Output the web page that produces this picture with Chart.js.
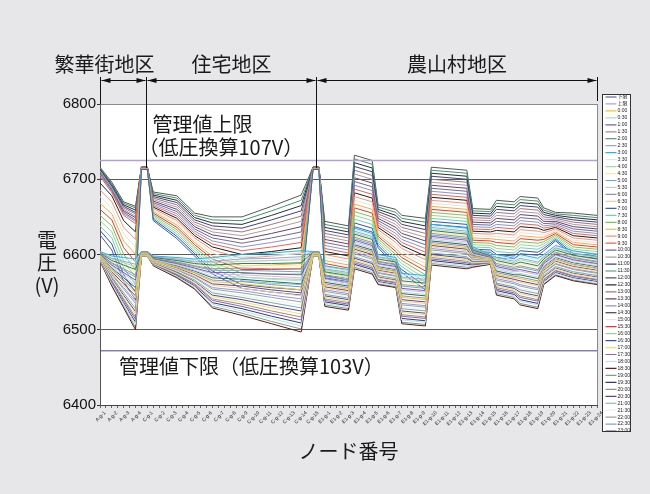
<!DOCTYPE html>
<html><head><meta charset="utf-8">
<script src="https://cdn.jsdelivr.net/npm/chart.js@4.4.1/dist/chart.umd.min.js"></script>
<style>html,body{margin:0;padding:0;background:#e7e7e9;}canvas{display:block;}</style>
</head><body>
<canvas id="c" width="650" height="494"></canvas>
<script>
// node numbers (x positions) at which voltages were read
const nodeNo = [1,3,5,7,8,9,10,14,17,20,25,30,35,37,38,39,43,44,47,48,51,52,56,57,63,64,67,68,71,72,75,76,78,81,85];

// tick labels for odd node numbers 1,3,...,85
const tickLabels = ['A-g-1','A-g-2','A-g-3','A-g-4',
 'C-g-1','C-g-2','C-g-3','C-g-4','C-g-5','C-g-6','C-g-7','C-g-8','C-g-9','C-g-10','C-g-11','C-g-12','C-g-13','C-g-14','C-g-15',
 'E1-g-1','E1-g-2','E1-g-3','E1-g-4','E1-g-5','E1-g-6','E1-g-7','E1-g-8','E1-g-9','E1-g-10','E1-g-11','E1-g-12',
 'E1-g-13','E1-g-14','E1-g-15','E1-g-16','E1-g-17','E1-g-18','E1-g-19','E1-g-20','E1-g-21','E1-g-22','E1-g-23','E1-g-24'];

const yTickValues = [6400,6500,6600,6700,6800];
const upperLimit = 6725;   // 管理値上限
const lowerLimit = 6472;   // 管理値下限

const regionNames = ['繁華街地区','住宅地区','農山村地区'];
const regionEdges = [1, 8.8, 37.5, 85];

const timeLabels = ['0:00','0:30','1:00','1:30','2:00','2:30','3:00','3:30','4:00','4:30','5:00','5:30',
 '6:00','6:30','7:00','7:30','8:00','8:30','9:00','9:30','10:00','10:30','11:00','11:30',
 '12:00','12:30','13:00','13:30','14:00','14:30','15:00','15:30','16:00','16:30','17:00','17:30',
 '18:00','18:30','19:00','19:30','20:00','20:30','21:00','21:30','22:00','22:30','23:00','23:30'];

const v0000 = [6598,6579,6564,6549,6601,6601,6592,6583,6575,6564,6561,6557,6553,6601,6601,6559,6554,6609,6602,6581,6577,6543,6540,6614,6609,6597,6594,6574,6569,6568,6563,6581,6593,6586,6581];
const v0030 = [6599,6583,6571,6559,6602,6602,6593,6586,6579,6571,6570,6567,6565,6602,6602,6565,6560,6615,6608,6585,6581,6550,6547,6620,6615,6600,6595,6580,6575,6575,6570,6585,6597,6590,6585];
const v0100 = [6600,6586,6576,6566,6602,6602,6594,6588,6582,6576,6576,6574,6573,6602,6602,6569,6564,6619,6612,6588,6584,6555,6552,6624,6619,6602,6596,6584,6579,6580,6575,6588,6600,6593,6588];
const v0130 = [6601,6589,6581,6573,6603,6603,6595,6590,6585,6581,6582,6581,6581,6603,6603,6573,6568,6623,6616,6591,6587,6560,6557,6628,6623,6604,6597,6588,6583,6585,6580,6591,6603,6596,6591];
const v0200 = [6602,6592,6586,6580,6603,6603,6596,6592,6588,6586,6588,6588,6589,6603,6603,6577,6572,6627,6620,6594,6590,6565,6562,6632,6627,6606,6598,6592,6587,6590,6585,6594,6606,6599,6594];
const v0230 = [6603,6595,6591,6587,6604,6604,6597,6594,6591,6591,6594,6595,6597,6604,6604,6581,6576,6631,6624,6597,6593,6570,6567,6636,6631,6608,6599,6596,6591,6595,6590,6597,6609,6602,6597];
const v0300 = [6604,6598,6596,6594,6604,6604,6598,6596,6594,6596,6600,6602,6605,6604,6604,6585,6580,6635,6628,6600,6596,6575,6572,6640,6635,6610,6600,6600,6595,6600,6595,6600,6612,6605,6600];
const v0330 = [6604,6597,6594,6591,6604,6604,6598,6595,6593,6594,6597,6599,6601,6604,6604,6583,6578,6633,6626,6599,6595,6573,6570,6638,6633,6609,6600,6598,6593,6598,6593,6599,6611,6604,6599];
const v0400 = [6603,6594,6589,6584,6604,6604,6597,6593,6590,6589,6591,6592,6593,6604,6604,6579,6574,6629,6622,6596,6592,6568,6565,6634,6629,6607,6599,6594,6589,6593,6588,6596,6608,6601,6596];
const v0430 = [6602,6591,6584,6577,6603,6603,6596,6591,6587,6584,6585,6585,6585,6603,6603,6575,6570,6625,6618,6593,6589,6563,6560,6630,6625,6605,6598,6590,6585,6588,6583,6593,6605,6598,6593];
const v0500 = [6601,6588,6579,6570,6603,6603,6595,6589,6584,6579,6579,6578,6577,6603,6603,6571,6566,6621,6614,6590,6586,6558,6555,6626,6621,6603,6597,6586,6581,6583,6578,6590,6602,6595,6590];
const v0530 = [6600,6585,6574,6563,6602,6602,6594,6587,6581,6574,6573,6571,6569,6602,6602,6567,6562,6617,6610,6587,6583,6553,6550,6622,6617,6601,6596,6582,6577,6578,6573,6587,6599,6592,6587];
const v0600 = [6598,6580,6566,6552,6601,6601,6592,6584,6576,6566,6564,6560,6557,6601,6601,6561,6556,6611,6604,6582,6578,6545,6542,6616,6611,6598,6594,6576,6571,6570,6565,6582,6594,6587,6582];
const v0630 = [6597,6576,6559,6542,6601,6601,6591,6581,6572,6559,6555,6550,6545,6601,6601,6555,6550,6605,6598,6578,6574,6538,6535,6610,6605,6595,6593,6570,6565,6563,6558,6578,6590,6583,6578];
const v0700 = [6626,6606,6564,6540,6713,6713,6645,6621,6598,6574,6555,6550,6546,6713,6713,6568,6562,6637,6630,6609,6584,6576,6553,6640,6636,6604,6603,6596,6594,6601,6599,6605,6618,6598,6595];
const v0730 = [6638,6622,6582,6560,6713,6713,6649,6627,6604,6582,6565,6562,6560,6713,6713,6576,6570,6647,6640,6615,6592,6584,6563,6648,6644,6610,6609,6604,6602,6609,6607,6611,6622,6604,6601];
const v0800 = [6652,6638,6600,6580,6713,6713,6653,6633,6610,6590,6575,6574,6574,6713,6713,6584,6578,6657,6650,6621,6600,6592,6573,6656,6652,6616,6615,6612,6610,6617,6615,6617,6626,6610,6607];
const v0830 = [6668,6654,6618,6600,6714,6714,6657,6639,6616,6598,6585,6586,6588,6714,6714,6592,6586,6667,6660,6627,6608,6600,6583,6664,6660,6622,6621,6620,6618,6625,6623,6623,6630,6616,6613];
const v0900 = [6686,6670,6636,6620,6714,6714,6661,6645,6622,6606,6595,6598,6602,6714,6714,6600,6594,6677,6670,6633,6616,6608,6593,6672,6668,6628,6627,6628,6626,6633,6631,6629,6634,6622,6619];
const v0930 = [6704,6682,6652,6641,6715,6715,6665,6651,6628,6614,6605,6610,6616,6715,6715,6608,6602,6687,6680,6639,6624,6616,6603,6680,6676,6634,6633,6636,6634,6641,6639,6635,6638,6628,6625];
const v1000 = [6708,6685,6656,6646,6715,6715,6669,6657,6634,6622,6615,6622,6630,6715,6715,6616,6610,6697,6690,6645,6632,6624,6613,6688,6684,6640,6639,6644,6642,6649,6647,6641,6642,6634,6631];
const v1030 = [6711,6688,6660,6651,6715,6715,6673,6663,6640,6630,6625,6634,6644,6715,6715,6624,6618,6707,6700,6651,6640,6632,6623,6696,6692,6646,6645,6652,6650,6657,6655,6647,6646,6640,6637];
const v1100 = [6713,6691,6664,6656,6716,6716,6677,6669,6646,6638,6635,6646,6658,6716,6716,6632,6626,6717,6710,6657,6648,6640,6633,6704,6700,6652,6651,6660,6658,6665,6663,6653,6650,6646,6643];
const v1130 = [6715,6694,6668,6662,6716,6716,6681,6675,6652,6646,6645,6658,6672,6716,6716,6640,6634,6727,6720,6663,6656,6648,6643,6712,6708,6658,6657,6668,6666,6673,6671,6659,6654,6652,6649];
const v1200 = [6716,6696,6670,6664,6716,6716,6683,6678,6655,6650,6650,6664,6679,6716,6716,6644,6638,6732,6725,6666,6660,6652,6648,6716,6712,6661,6660,6672,6670,6677,6675,6662,6656,6655,6652];
const v1230 = [6714,6693,6666,6659,6716,6716,6679,6672,6649,6642,6640,6652,6665,6716,6716,6636,6630,6722,6715,6660,6652,6644,6638,6708,6704,6655,6654,6664,6662,6669,6667,6656,6652,6649,6646];
const v1300 = [6712,6690,6662,6654,6716,6716,6675,6666,6643,6634,6630,6640,6651,6716,6716,6628,6622,6712,6705,6654,6644,6636,6628,6700,6696,6649,6648,6656,6654,6661,6659,6650,6648,6643,6640];
const v1330 = [6710,6687,6658,6649,6715,6715,6671,6660,6637,6626,6620,6628,6637,6715,6715,6620,6614,6702,6695,6648,6636,6628,6618,6692,6688,6643,6642,6648,6646,6653,6651,6644,6644,6637,6634];
const v1400 = [6706,6684,6654,6644,6715,6715,6667,6654,6631,6618,6610,6616,6623,6715,6715,6612,6606,6692,6685,6642,6628,6620,6608,6684,6680,6637,6636,6640,6638,6645,6643,6638,6640,6631,6628];
const v1430 = [6695,6678,6645,6630,6714,6714,6663,6648,6625,6610,6600,6604,6609,6714,6714,6604,6598,6682,6675,6636,6620,6612,6598,6676,6672,6631,6630,6632,6630,6637,6635,6632,6636,6625,6622];
const v1500 = [6677,6662,6627,6610,6714,6714,6659,6642,6619,6602,6590,6592,6595,6714,6714,6596,6590,6672,6665,6630,6612,6604,6588,6668,6664,6625,6624,6624,6622,6629,6627,6626,6632,6619,6616];
const v1530 = [6660,6646,6609,6590,6714,6714,6655,6636,6613,6594,6580,6580,6581,6714,6714,6588,6582,6662,6655,6624,6604,6596,6578,6660,6656,6619,6618,6616,6614,6621,6619,6620,6628,6613,6610];
const v1600 = [6645,6630,6591,6570,6713,6713,6651,6630,6607,6586,6570,6568,6567,6713,6713,6580,6574,6652,6645,6618,6596,6588,6568,6652,6648,6613,6612,6608,6606,6613,6611,6614,6624,6607,6604];
const v1630 = [6632,6614,6573,6550,6713,6713,6647,6624,6601,6578,6560,6556,6553,6713,6713,6572,6566,6642,6635,6612,6588,6580,6558,6644,6640,6607,6606,6600,6598,6605,6603,6608,6620,6601,6598];
const v1700 = [6594,6567,6544,6521,6599,6599,6588,6575,6563,6544,6537,6529,6521,6599,6599,6543,6538,6593,6586,6569,6565,6523,6520,6598,6593,6589,6590,6558,6553,6548,6543,6569,6581,6574,6569];
const v1730 = [6593,6564,6539,6514,6599,6599,6587,6573,6560,6539,6531,6522,6513,6599,6599,6539,6534,6589,6582,6566,6562,6518,6515,6594,6589,6587,6589,6554,6549,6543,6538,6566,6578,6571,6566];
const v1800 = [6592,6561,6534,6507,6598,6598,6586,6571,6557,6534,6525,6515,6505,6598,6598,6535,6530,6585,6578,6563,6559,6513,6510,6590,6585,6585,6588,6550,6545,6538,6533,6563,6575,6568,6563];
const v1830 = [6591,6558,6529,6500,6598,6598,6585,6569,6554,6529,6519,6508,6497,6598,6598,6531,6526,6581,6574,6560,6556,6508,6505,6586,6581,6583,6587,6546,6541,6533,6528,6560,6572,6565,6560];
const v1900 = [6591,6559,6531,6503,6598,6598,6585,6570,6555,6531,6522,6511,6501,6598,6598,6533,6528,6583,6576,6561,6557,6510,6507,6588,6583,6584,6587,6548,6543,6535,6530,6561,6573,6566,6561];
const v1930 = [6592,6562,6536,6510,6598,6598,6586,6572,6558,6536,6528,6518,6509,6598,6598,6537,6532,6587,6580,6564,6560,6515,6512,6592,6587,6586,6588,6552,6547,6540,6535,6564,6576,6569,6564];
const v2000 = [6593,6565,6541,6517,6599,6599,6587,6574,6561,6541,6534,6525,6517,6599,6599,6541,6536,6591,6584,6567,6563,6520,6517,6596,6591,6588,6589,6556,6551,6545,6540,6567,6579,6572,6567];
const v2030 = [6594,6568,6546,6524,6599,6599,6588,6576,6564,6546,6540,6532,6525,6599,6599,6545,6540,6595,6588,6570,6566,6525,6522,6600,6595,6590,6590,6560,6555,6550,6545,6570,6582,6575,6570];
const v2100 = [6595,6570,6549,6528,6600,6600,6589,6577,6566,6549,6543,6536,6529,6600,6600,6547,6542,6597,6590,6572,6568,6528,6525,6602,6597,6591,6591,6562,6557,6553,6548,6572,6584,6577,6572];
const v2130 = [6595,6571,6551,6531,6600,6600,6589,6578,6567,6551,6546,6539,6533,6600,6600,6549,6544,6599,6592,6573,6569,6530,6527,6604,6599,6592,6591,6564,6559,6555,6550,6573,6585,6578,6573];
const v2200 = [6596,6573,6554,6535,6600,6600,6590,6579,6569,6554,6549,6543,6537,6600,6600,6551,6546,6601,6594,6575,6571,6533,6530,6606,6601,6593,6592,6566,6561,6558,6553,6575,6587,6580,6575];
const v2230 = [6596,6574,6556,6538,6600,6600,6590,6580,6570,6556,6552,6546,6541,6600,6600,6553,6548,6603,6596,6576,6572,6535,6532,6608,6603,6594,6592,6568,6563,6560,6555,6576,6588,6581,6576];
const v2300 = [6597,6577,6561,6545,6601,6601,6591,6582,6573,6561,6558,6553,6549,6601,6601,6557,6552,6607,6600,6579,6575,6540,6537,6612,6607,6596,6593,6572,6567,6565,6560,6579,6591,6584,6579];
const v2330 = [6599,6582,6569,6556,6602,6602,6593,6585,6578,6569,6567,6564,6561,6602,6602,6563,6558,6613,6606,6584,6580,6548,6545,6618,6613,6599,6595,6578,6573,6573,6568,6584,6596,6589,6584];

const seriesValues = [v0000,v0030,v0100,v0130,v0200,v0230,v0300,v0330,v0400,v0430,v0500,v0530,
 v0600,v0630,v0700,v0730,v0800,v0830,v0900,v0930,v1000,v1030,v1100,v1130,
 v1200,v1230,v1300,v1330,v1400,v1430,v1500,v1530,v1600,v1630,v1700,v1730,
 v1800,v1830,v1900,v1930,v2000,v2030,v2100,v2130,v2200,v2230,v2300,v2330];

const seriesColors = ['#f2c81e','#a6dfe0','#7b5ea7','#a98c84','#2f7d5d','#9aa3d6','#1fb5e6','#cdeff0',
 '#a9d8a3','#f5ec9c','#5aaee3','#e6b3d6','#9a8ac8','#f6c9a3','#3f5fb5','#6fcfbf',
 '#7ac553','#f7ad3f','#f79273','#ee6450','#6b6b99','#a3a3a3','#3a418c','#3b9a6b',
 '#565656','#2e2e2e','#b07272','#6e3f6e','#8b92d1','#1e1e1e','#e4e4e4','#ef3434',
 '#96d696','#3353ae','#f5df6e','#8a62c0','#b1e6df','#6e1a1a','#7f9f87','#323b78',
 '#9a9181','#6242a0','#72b1a2','#eeeeee','#9f9f9f','#7f9fe0','#5c4a86','#2a6b4c'];

const CJK = '"Noto Sans CJK JP", "Noto Sans CJK SC", sans-serif';
Chart.defaults.font.family = '"Liberation Sans", Arial, ' + CJK;

const first = nodeNo[0], last = nodeNo[nodeNo.length - 1];
const datasets = [
  {label:'下限', data:[{x:first,y:lowerLimit},{x:last,y:lowerLimit}], borderColor:'#45458f', borderWidth:1},
  {label:'上限', data:[{x:first,y:upperLimit},{x:last,y:upperLimit}], borderColor:'#b49fdc', borderWidth:1.6}
];
timeLabels.forEach((t, i) => {
  datasets.push({label:t, data: nodeNo.map((n, j) => ({x:n, y:seriesValues[i][j]})),
    borderColor: seriesColors[i], borderWidth: 1});
});

function arrowHead(ctx, x, y, dir){
  ctx.beginPath(); ctx.moveTo(x, y); ctx.lineTo(x - dir*9, y - 2.6); ctx.lineTo(x - dir*9, y + 2.6);
  ctx.closePath(); ctx.fill();
}

const decor = {
  id:'decor',
  beforeDraw(chart){
    const {ctx, chartArea:a} = chart;
    ctx.save();
    ctx.fillStyle = '#e7e7e9'; ctx.fillRect(0, 0, chart.width, chart.height);
    ctx.fillStyle = '#ffffff'; ctx.fillRect(a.left, a.top, a.right - a.left, a.bottom - a.top);
    ctx.restore();
  },
  afterDraw(chart){
    const {ctx, chartArea:a, scales:{x, y}} = chart;
    ctx.save();
    // frame right side
    ctx.strokeStyle = '#8a8a8a'; ctx.lineWidth = 1;
    ctx.beginPath(); ctx.moveTo(a.right + 0.5, a.top); ctx.lineTo(a.right + 0.5, a.bottom); ctx.stroke();

    // region separators and arrows
    const xs = regionEdges.map(v => Math.round(x.getPixelForValue(v)) + 0.5);
    const yPeak = y.getPixelForValue(6715);
    const yTop = a.top - 27, yArrow = a.top - 24;
    ctx.strokeStyle = '#111'; ctx.fillStyle = '#111'; ctx.lineWidth = 1;
    const ends = [a.top, yPeak, yPeak, a.top - 3];
    xs.forEach((px, i) => { ctx.beginPath(); ctx.moveTo(px, yTop); ctx.lineTo(px, ends[i]); ctx.stroke(); });
    for (let i = 0; i < 3; i++) {
      const l = xs[i] + 1, r = xs[i+1] - 1;
      ctx.beginPath(); ctx.moveTo(l, yArrow + 0.5); ctx.lineTo(r, yArrow + 0.5); ctx.stroke();
      arrowHead(ctx, l, yArrow + 0.5, -1); arrowHead(ctx, r, yArrow + 0.5, 1);
    }
    ctx.font = '20px ' + CJK; ctx.fillStyle = '#1a1a1a'; ctx.textBaseline = 'middle';
    regionNames.forEach((nm, i) => {
      if (i === 0) { ctx.textAlign = 'right'; ctx.fillText(nm, xs[1] + 8, a.top - 40); }
      else { ctx.textAlign = 'center'; ctx.fillText(nm, (xs[i] + xs[i+1]) / 2, a.top - 40); }
    });

    // limit annotations
    ctx.textAlign = 'left';
    ctx.fillText('管理値上限', xs[1] + 6, a.top + 20);
    ctx.fillText('（低圧換算107V）', xs[1] - 8, a.top + 43);
    ctx.fillText('管理値下限（低圧換算103V）', a.left + 19, y.getPixelForValue(lowerLimit) + 16);

    // axis titles
    ctx.textAlign = 'center';
    ctx.fillText('電', 47, 240); ctx.fillText('圧', 47, 262); ctx.fillText('(V)', 47, 285);
    ctx.fillText('ノード番号', (a.left + a.right) / 2, 451);

    // legend box
    const lx = a.right + 5.5, ly = 94.5, lw = 28, lh = 337;
    ctx.fillStyle = '#ffffff'; ctx.fillRect(lx, ly, lw, lh);
    ctx.save();
    ctx.beginPath(); ctx.rect(lx, ly, lw, lh); ctx.clip();
    ctx.font = '5px "Liberation Sans", ' + CJK; ctx.textAlign = 'left'; ctx.textBaseline = 'middle';
    chart.data.datasets.forEach((ds, i) => {
      const yy = ly + 2.5 + i * 6.96;
      ctx.strokeStyle = ds.borderColor; ctx.lineWidth = 1.2;
      ctx.beginPath(); ctx.moveTo(lx + 3, yy); ctx.lineTo(lx + 14, yy); ctx.stroke();
      ctx.fillStyle = '#222'; ctx.fillText(ds.label, lx + 15, yy);
    });
    ctx.restore();
    ctx.strokeStyle = '#333'; ctx.lineWidth = 1; ctx.strokeRect(lx, ly, lw, lh);
    ctx.restore();
  }
};

new Chart(document.getElementById('c'), {
  type:'line',
  data:{datasets},
  options:{
    responsive:false, animation:false, devicePixelRatio:1,
    layout:{padding:{left:0, right:53, top:104, bottom:0}},
    elements:{point:{radius:0}, line:{tension:0}},
    plugins:{legend:{display:false}, tooltip:{enabled:false}},
    scales:{
      x:{type:'linear', min:1, max:85,
        afterFit:s => { s.height = 89; },
        ticks:{stepSize:1, autoSkip:false, minRotation:45, maxRotation:45, font:{size:5}, color:'#222',
          padding:2, labelOffset:5,
          callback:v => (v % 2 === 1 ? tickLabels[(v - 1) / 2] : '')},
        grid:{drawOnChartArea:false, tickLength:3, color:'#666'},
        border:{color:'#444'}},
      y:{min:6400, max:6800,
        afterFit:s => { s.width = 100; },
        afterBuildTicks:s => { s.ticks = yTickValues.map(v => ({value:v})); },
        ticks:{font:{size:15}, color:'#111', padding:1, callback:v => String(v)},
        grid:{color:c => (c.tick && c.tick.value === 6800 ? '#8a8a8a' : '#5a5a5a'), tickLength:3, tickColor:'#333'},
        border:{color:'#555'}}
    }
  },
  plugins:[decor]
});
</script>
</body></html>
